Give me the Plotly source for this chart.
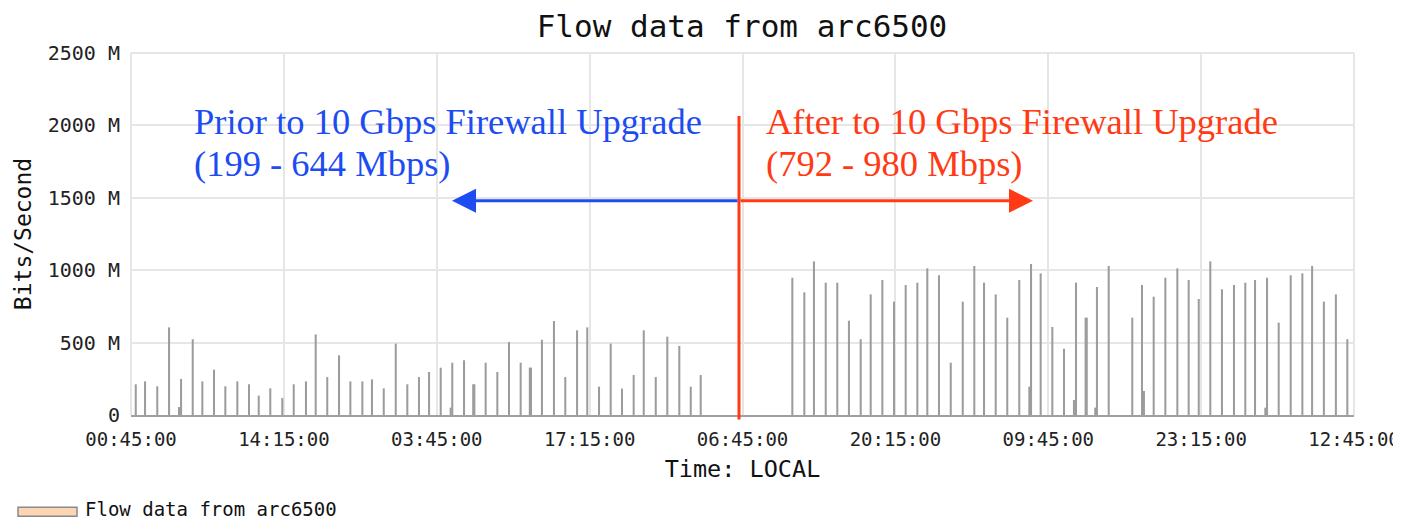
import pandas as pd
import plotly.graph_objects as go

# ---- data (hours after 00:45:00 start, Mbps) ----
hours_prior = [0.42, 1.24, 2.32, 3.36, 4.24, 4.42, 5.45, 6.30, 7.33, 8.33, 9.39, 10.42, 11.28, 12.30,
               13.36, 14.37, 15.45, 16.31, 17.33, 18.37, 19.37, 20.43, 21.28, 22.32, 23.38, 24.40,
               25.43, 26.32, 27.35, 28.23, 28.37, 29.41, 30.22, 30.32, 31.32, 32.35, 33.38, 34.41,
               35.22, 35.32, 36.29, 37.35, 38.35, 39.39, 40.29, 41.33, 42.36, 43.36, 44.39, 45.28,
               46.34, 47.36, 48.42, 49.43, 50.31]
mbps_prior = [212, 232, 198, 605, 55, 249, 523, 232, 313, 198, 232, 212, 134, 184,
              117, 212, 232, 557, 262, 412, 232, 232, 246, 184, 493, 212,
              262, 297, 327, 51, 361, 378, 212, 212, 361, 297, 504, 361,
              327, 327, 520, 649, 262, 585, 605, 196, 493, 182, 276, 585,
              262, 541, 477, 196, 276]
hours_after = [58.40, 59.46, 60.31, 61.35, 62.37, 63.40, 64.44, 65.32, 66.35, 67.38, 68.41, 69.44,
               70.32, 71.35, 72.39, 73.45, 74.47, 75.33, 76.36, 77.38, 78.44, 79.33, 79.48, 80.33,
               81.36, 82.39, 83.27, 83.45, 84.30, 84.40, 85.15, 85.30, 86.34, 88.42, 89.28, 89.45,
               90.31, 91.34, 92.40, 93.40, 94.29, 95.31, 96.34, 97.40, 98.40, 99.26, 100.17, 100.32,
               101.35, 102.41, 103.44, 104.30, 105.34, 106.40, 107.41]
mbps_after = [948, 847, 1061, 914, 914, 651, 523, 833, 932, 783, 898, 914,
              1013, 965, 361, 783, 1029, 914, 833, 672, 932, 196, 1043, 978,
              608, 458, 104, 914, 672, 672, 51, 884, 1029, 672, 898, 166,
              817, 948, 1013, 932, 801, 1061, 868, 898, 914, 932, 51, 948,
              638, 965, 978, 1029, 783, 833, 523]

y_tickvals = [0, 500, 1000, 1500, 2000, 2500]
y_ticktext = ["0", "500 M", "1000 M", "1500 M", "2000 M", "2500 M"]
start = pd.Timestamp("2010-01-01 00:45:00")
span_hours = 108
tick_step_hours = 13.5

hours = hours_prior + hours_after
mbps = mbps_prior + mbps_after
times = [start + pd.Timedelta(hours=h) for h in hours]

MONO = "DejaVu Sans Mono"
SERIF = "Liberation Serif"
BLUE = "#1c4cf2"
RED = "#ff3a14"

OFF = 8  # page body margin
W, H = 1401 - OFF, 521 - OFF
L, R, T, B = 131, 1354, 53, 415.5  # plot area in page pixels


def px(x):
    return (x - L) / (R - L)


def py(y):
    return (B - y) / (B - T)


fig = go.Figure()
fig.add_trace(go.Bar(
    x=times, y=mbps,
    width=0.18 * 3600 * 1000,
    marker=dict(color="#9c9c9c", line=dict(width=0)),
    name="Flow data from arc6500",
    showlegend=False,
))

fig.update_layout(
    width=W, height=H,
    margin=dict(l=L - OFF, r=1401 - R, t=T - OFF, b=521 - B, autoexpand=False),
    paper_bgcolor="white", plot_bgcolor="white",
    barmode="overlay",
    title=dict(text="Flow data from arc6500", x=px(742), xref="paper", xanchor="center",
               y=1 - (26 - OFF) / H, yanchor="middle",
               font=dict(family=MONO, size=31, color="#111")),
    xaxis=dict(
        type="date",
        range=[start, start + pd.Timedelta(hours=span_hours)],
        tick0=start, dtick=tick_step_hours * 3600 * 1000,
        tickformat="%H:%M:%S",
        showgrid=True, gridcolor="#e6e6e6", gridwidth=2,
        showline=True, linecolor="#a0a0a0", linewidth=2,
        ticks="", ticklabelstandoff=6,
        tickfont=dict(family=MONO, size=19, color="#222"),
        title=dict(text="Time: LOCAL", standoff=12,
                   font=dict(family=MONO, size=23.5, color="#111")),
        zeroline=False,
    ),
    yaxis=dict(
        range=[0, 2500],
        tickvals=y_tickvals, ticktext=y_ticktext,
        showgrid=True, gridcolor="#e6e6e6", gridwidth=2,
        ticks="", ticklabelstandoff=10,
        tickfont=dict(family=MONO, size=20, color="#222"),
        title=dict(text="Bits/Second", standoff=9,
                   font=dict(family=MONO, size=23, color="#111")),
        zeroline=False,
    ),
)

shapes = [
    dict(type="line", xref="paper", yref="paper", x0=1, x1=1, y0=0, y1=1,
         line=dict(color="#e6e6e6", width=2), layer="below"),
    dict(type="line", xref="paper", yref="paper", x0=0, x1=1, y0=1, y1=1,
         line=dict(color="#e6e6e6", width=2), layer="below"),
    dict(type="line", xref="paper", yref="paper", x0=0, x1=0, y0=0, y1=1,
         line=dict(color="#e6e6e6", width=2), layer="below"),
    # red divider
    dict(type="line", xref="paper", yref="paper", x0=px(739), x1=px(739), y0=py(420), y1=py(116),
         line=dict(color=RED, width=3)),
    # legend swatch
    dict(type="rect", xref="paper", yref="paper", x0=px(18), x1=px(77), y0=py(517), y1=py(508),
         fillcolor="#fcd5b5", line=dict(color="#8a8a8a", width=1.5)),
]
fig.update_layout(shapes=shapes)

annotations = [
    dict(xref="paper", yref="paper", x=px(192), y=py(122), xanchor="left", yanchor="middle",
         text="Prior to 10 Gbps Firewall Upgrade", showarrow=False,
         font=dict(family=SERIF, size=36.5, color=BLUE)),
    dict(xref="paper", yref="paper", x=px(192), y=py(164), xanchor="left", yanchor="middle",
         text="(199 - 644 Mbps)", showarrow=False,
         font=dict(family=SERIF, size=36.5, color=BLUE)),
    dict(xref="paper", yref="paper", x=px(764), y=py(122), xanchor="left", yanchor="middle",
         text="After to 10 Gbps Firewall Upgrade", showarrow=False,
         font=dict(family=SERIF, size=36.5, color=RED)),
    dict(xref="paper", yref="paper", x=px(764), y=py(164), xanchor="left", yanchor="middle",
         text="(792 - 980 Mbps)", showarrow=False,
         font=dict(family=SERIF, size=36.5, color=RED)),
    dict(xref="paper", yref="paper", x=px(452), y=py(201), text="", showarrow=True,
         ax=739 - 452, ay=0, arrowhead=2, arrowsize=1.6, arrowwidth=3, arrowcolor=BLUE),
    dict(xref="paper", yref="paper", x=px(1033), y=py(201), text="", showarrow=True,
         ax=739 - 1033, ay=0, arrowhead=2, arrowsize=1.6, arrowwidth=3, arrowcolor=RED),
    dict(xref="paper", yref="paper", x=px(83), y=py(510), xanchor="left", yanchor="middle",
         text="Flow data from arc6500", showarrow=False,
         font=dict(family=MONO, size=19, color="#111")),
]
fig.update_layout(annotations=annotations)

fig.write_html("out.html")
